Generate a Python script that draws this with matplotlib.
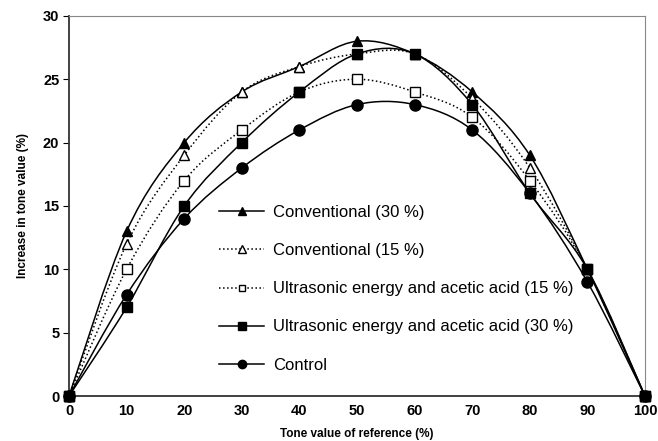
import matplotlib
matplotlib.use('Agg')
import matplotlib.pyplot as plt
from matplotlib.path import Path
from matplotlib.patches import PathPatch
from matplotlib.lines import Line2D
import numpy as np

plt.rcParams['font.family'] = ['Liberation Sans', 'DejaVu Sans']

# tone value of reference (%)
tone = [0, 10, 20, 30, 40, 50, 60, 70, 80, 90, 100]

conv_30 = [0, 13, 20, 24, 26, 28, 27, 24, 19, 10, 0]
conv_15 = [0, 12, 19, 24, 26, 27, 27, 23.5, 18, 10, 0]
us_15 = [0, 10, 17, 21, 24, 25, 24, 22, 17, 10, 0]
us_30 = [0, 7, 15, 20, 24, 27, 27, 23, 16, 10, 0]
control = [0, 8, 14, 18, 21, 23, 23, 21, 16, 9, 0]

labels = ['Conventional (30 %)', 'Conventional (15 %)',
          'Ultrasonic energy and acetic acid (15 %)',
          'Ultrasonic energy and acetic acid (30 %)', 'Control']


def smooth_path(x, y):
    # Excel-style smoothed line: Catmull-Rom segments drawn as cubic Bezier
    pts = np.column_stack([x, y]).astype(float)
    n = len(pts)
    verts = [pts[0]]
    codes = [Path.MOVETO]
    for i in range(n - 1):
        p0 = pts[i - 1] if i > 0 else pts[i]
        p1 = pts[i]
        p2 = pts[i + 1]
        p3 = pts[i + 2] if i + 2 < n else pts[i + 1]
        c1 = p1 + (p2 - p0) / 6.0
        c2 = p2 - (p3 - p1) / 6.0
        verts += [c1, c2, p2]
        codes += [Path.CURVE4] * 3
    return Path(verts, codes)


fig = plt.figure(figsize=(6.58, 4.41), dpi=100)
ax = fig.add_axes([69 / 658, 0.102, 576 / 658, 0.862])

series = [
    (conv_30, '-', '^', 'black', 7.5),
    (conv_15, ':', '^', 'white', 7),
    (us_15, ':', 's', 'white', 6.5),
    (us_30, '-', 's', 'black', 7),
    (control, '-', 'o', 'black', 8),
]

handles = []
for (vals, ls, mk, fc, ms), lab in zip(series, labels):
    patch = PathPatch(smooth_path(tone, vals), facecolor='none',
                      edgecolor='black', linestyle=ls, linewidth=1.1)
    ax.add_patch(patch)
    ax.plot(tone, vals, linestyle='none', marker=mk, markersize=ms,
            markerfacecolor=fc, markeredgecolor='black', markeredgewidth=1,
            clip_on=False, zorder=3)
    handles.append(Line2D([], [], color='black', linestyle=ls, linewidth=1.1,
                          marker=mk, markersize=ms * 0.75,
                          markerfacecolor=fc, markeredgecolor='black'))

ax.set_xlim(0, 100)
ax.set_ylim(0, 30)
ax.set_xticks(range(0, 101, 10))
ax.set_yticks(range(0, 31, 5))

for side in ['top', 'right']:
    ax.spines[side].set_color('#888888')
for side in ['left', 'bottom']:
    ax.spines[side].set_color('#333333')
    ax.spines[side].set_linewidth(1.3)

ax.tick_params(axis='y', length=4, direction='out', labelsize=10.5, pad=3)
ax.tick_params(axis='x', length=0, labelsize=10.5, pad=6)
for t in ax.get_xticklabels() + ax.get_yticklabels():
    t.set_fontweight('bold')

ax.set_xlabel('Tone value of reference (%)', fontsize=8.5,
              fontweight='bold', labelpad=7)
ax.set_ylabel('Increase in tone value (%)', fontsize=8.5,
              fontweight='bold', labelpad=10)

fig.legend(handles, labels, loc='upper left',
           bbox_to_anchor=(219 / 658, 1 - 205 / 441),
           frameon=False, fontsize=12, handlelength=2.7,
           handletextpad=0.55, labelspacing=1.39,
           borderpad=0, borderaxespad=0)

fig.savefig('out.png', dpi=100)
